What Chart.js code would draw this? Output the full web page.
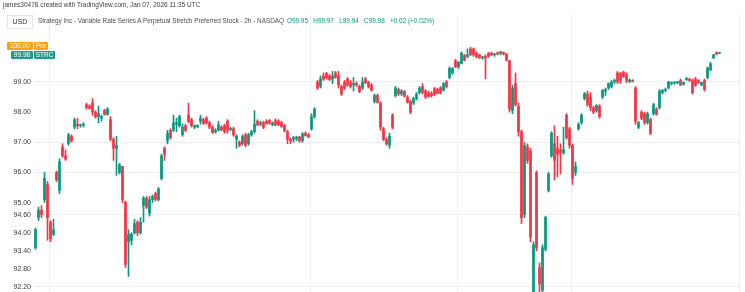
<!DOCTYPE html>
<html>
<head>
<meta charset="utf-8">
<script src="https://cdn.jsdelivr.net/npm/chart.js@4"></script>
<style>
  body { margin: 0; background: #fff; }
  #wrap { position: relative; width: 745px; height: 292px; overflow: hidden; font-family: "Liberation Sans", Arial, sans-serif; }
  #canvas { position: absolute; left: 0; top: 0; }
  .txt { position: absolute; white-space: nowrap; }
  .tag { position: absolute; color: #fff; font-size: 6.5px; line-height: 8px; height: 8px; text-align: center; border-radius: 1px; }
</style>
</head>
<body>
<div id="wrap">
  <canvas id="canvas" width="745" height="292"></canvas>
  <div class="txt" style="left:3px;top:1px;font-size:6.5px;color:#3c3f48">james30478 created with TradingView.com, Jan 07, 2026 11:35 UTC</div>
  <div class="txt" style="left:7px;top:15px;width:24px;height:12px;border:1px solid #e0e3eb;background:#fff;font-size:7px;line-height:12px;text-align:center;color:#333">USD</div>
  <div class="txt" style="left:38px;top:17px;font-size:6.4px;color:#4a4e59">Strategy Inc - Variable Rate Series A Perpetual Stretch Preferred Stock - 2h - NASDAQ</div>
  <div class="txt" style="left:287px;top:17px;font-size:6.4px;color:#089981">O99.95&nbsp;&nbsp; H99.97&nbsp;&nbsp; L99.94&nbsp;&nbsp; C99.98&nbsp;&nbsp; +0.02 (+0.02%)</div>
  <div class="tag" style="left:7px;top:42px;width:26px;background:#f7a21b">100.00</div>
  <div class="tag" style="left:34px;top:42px;width:14px;background:#f7a21b">Pre</div>
  <div class="tag" style="left:11px;top:51px;width:22px;background:#22998a">99.98</div>
  <div class="tag" style="left:34px;top:51px;width:21px;background:#22998a">STRC</div>
</div>
<script>
// 2h candles
const open = [
  93.5,94.5,94.75,95.1,95.6,94.35,93.95,96.0,95.4,96.85,
  96.55,96.95,97.2,97.5,97.6,97.55,97.57,98.25,98.2,98.3,
  98.0,97.85,97.8,98.05,97.92,97.75,97.1,96.8,96.0,96.2,
  95.0,93.7,93.75,94.0,94.35,94.0,94.9,95.15,94.65,95.1,
  95.3,95.1,95.8,96.8,97.05,97.4,97.4,97.6,97.55,97.25,
  97.55,97.9,97.75,97.5,97.52,97.7,97.75,97.8,97.65,97.5,
  97.35,97.4,97.5,97.55,97.7,97.42,97.45,97.1,97.0,96.95,
  97.25,96.95,97.25,97.35,97.7,97.6,97.65,97.7,97.72,97.58,
  97.72,97.7,97.65,97.55,97.35,97.1,97.1,97.12,97.17,97.05,
  97.3,97.25,97.45,97.85,99.0,98.85,99.2,99.28,99.2,99.1,
  99.3,99.2,98.85,99.0,99.1,99.0,98.9,98.95,98.85,98.8,
  99.1,99.0,98.9,98.35,98.55,98.3,97.45,97.1,96.9,97.9,
  98.55,98.75,98.6,98.68,98.5,98.35,98.3,98.45,98.65,98.85,
  98.7,98.65,98.62,98.78,98.75,98.8,98.72,99.0,99.15,99.3,
  99.7,99.5,99.62,99.88,99.85,100.1,100.1,99.95,99.9,99.8,
  99.85,99.95,99.95,99.9,99.95,99.95,99.98,99.92,99.7,98.05,
  98.95,98.2,97.35,94.6,96.85,96.7,92.0,96.0,92.85,92.1,
  93.45,95.4,96.55,96.95,96.8,96.75,96.65,97.9,97.45,96.9,
  96.0,97.45,97.65,98.45,98.6,98.5,98.15,98.05,98.2,98.5,
  98.7,98.8,98.85,99.0,99.3,99.28,99.33,99.25,99.02,99.05,
  98.8,97.5,98.0,97.95,97.65,97.75,97.95,98.1,98.15,98.65,
  98.72,98.8,98.95,98.97,98.97,99.05,98.92,99.08,99.1,99.05,
  99.1,99.05,98.9,99.05,99.15,99.4,99.8,99.97,99.95
];
const high = [
  94.15,94.85,94.9,96.0,95.7,94.4,94.45,96.05,96.45,96.95,
  96.75,97.3,97.25,97.8,97.8,97.6,97.65,98.3,98.25,98.45,
  98.05,98.2,97.9,98.1,98.15,97.85,97.15,97.2,96.3,96.2,
  95.05,94.1,94.0,94.45,94.4,94.5,95.2,95.2,95.2,95.25,
  95.35,95.5,96.6,96.85,97.4,97.45,97.9,97.8,97.9,97.6,
  97.6,98.3,97.8,97.58,97.58,97.9,97.8,97.85,97.7,97.55,
  97.45,97.7,97.55,97.6,97.75,97.5,97.5,97.25,97.05,97.25,
  97.3,97.3,97.4,98.05,97.75,97.7,97.7,97.75,97.76,97.68,
  97.78,97.75,97.7,97.6,97.4,97.15,97.2,97.2,97.2,97.32,
  97.35,97.3,97.95,98.15,99.05,99.2,99.3,99.32,99.25,99.35,
  99.35,99.35,98.9,99.05,99.15,99.05,99.15,99.0,98.9,99.15,
  99.15,99.02,98.95,98.6,98.6,98.35,97.5,97.15,97.3,97.95,
  98.85,98.8,98.75,98.72,98.55,98.4,98.5,98.65,98.85,98.95,
  98.75,98.7,98.68,98.82,98.8,98.85,98.98,99.05,99.5,99.48,
  99.75,99.68,100.0,99.92,100.1,100.15,100.13,100.0,99.92,99.85,
  99.9,99.98,100.0,99.95,100.0,100.02,100.0,99.95,99.72,98.9,
  99.3,98.3,97.4,97.0,96.95,96.8,93.7,96.05,93.0,93.6,
  94.55,96.0,97.35,97.55,97.2,96.95,97.5,97.95,97.5,96.95,
  96.35,97.65,97.95,98.65,98.7,98.65,98.2,98.25,98.25,98.75,
  98.8,98.97,99.05,99.1,99.35,99.32,99.36,99.3,99.1,99.08,
  98.85,97.7,98.05,98.0,98.0,97.8,98.3,98.15,98.75,98.75,
  98.8,99.02,99.0,99.0,99.02,99.1,99.0,99.15,99.12,99.1,
  99.15,99.08,99.0,99.1,99.5,99.65,99.92,100.0,99.97
];
const low = [
  93.45,94.4,94.5,95.0,93.75,93.7,93.9,95.7,95.3,96.5,
  96.4,96.9,97.0,97.45,97.45,97.5,97.5,98.1,98.1,97.9,
  97.8,97.65,97.7,97.9,97.9,97.05,96.4,95.9,95.95,95.0,
  92.85,92.55,93.6,93.95,93.9,93.95,94.35,94.8,94.55,95.0,
  95.05,95.05,95.75,96.4,96.95,97.1,97.35,97.35,97.5,97.2,
  97.35,97.65,97.5,97.45,97.48,97.6,97.6,97.6,97.45,97.3,
  97.3,97.38,97.38,97.3,97.3,97.38,97.2,96.8,96.85,96.9,
  96.85,96.9,97.2,97.3,97.55,97.55,97.45,97.6,97.6,97.55,
  97.55,97.55,97.5,97.35,96.95,96.95,97.0,97.05,97.0,97.0,
  97.2,97.15,97.4,97.8,98.75,98.8,99.05,99.1,99.05,98.95,
  99.12,98.8,98.55,98.75,98.85,98.8,98.7,98.85,98.65,98.75,
  98.95,98.8,98.7,98.3,98.3,97.4,97.05,96.9,96.8,97.45,
  98.5,98.55,98.55,98.5,98.3,97.95,98.25,98.4,98.6,98.6,
  98.45,98.5,98.5,98.55,98.6,98.6,98.7,98.8,99.1,99.25,
  99.48,99.45,99.6,99.7,99.8,99.88,99.85,99.8,99.78,99.75,
  99.1,99.82,99.88,99.85,99.9,99.9,99.9,99.7,98.0,97.95,
  98.2,97.2,94.3,94.5,96.3,93.7,91.6,93.4,91.7,91.6,
  93.4,95.35,96.5,95.75,95.85,95.95,96.6,97.1,96.8,95.6,
  95.9,97.4,97.6,98.4,98.2,98.05,97.95,98.0,97.8,98.45,
  98.55,98.75,98.8,98.95,98.95,98.95,99.15,98.98,98.98,99.0,
  97.6,97.45,97.75,97.6,97.6,97.25,97.9,97.9,98.1,98.6,
  98.68,98.78,98.9,98.92,98.95,98.88,98.9,99.05,99.02,98.6,
  98.85,98.95,98.88,98.7,99.1,99.38,99.78,99.9,99.94
];
const close = [
  94.1,94.75,94.6,95.8,94.5,93.8,94.1,95.75,96.35,96.55,
  96.45,97.25,97.05,97.75,97.55,97.57,97.6,98.15,98.12,98.0,
  97.85,97.95,97.85,97.92,98.1,97.1,96.8,96.9,96.25,95.1,
  92.95,93.95,93.95,94.3,94.0,94.35,95.15,94.85,95.1,95.2,
  95.1,95.45,96.55,96.6,97.3,97.15,97.65,97.65,97.85,97.5,
  97.4,97.7,97.55,97.55,97.56,97.8,97.62,97.65,97.5,97.32,
  97.4,97.58,97.42,97.35,97.4,97.46,97.25,97.2,96.9,97.2,
  96.9,97.25,97.35,97.6,97.58,97.65,97.5,97.62,97.64,97.64,
  97.58,97.6,97.52,97.38,97.1,97.05,97.15,97.17,97.05,97.28,
  97.22,97.17,97.85,98.1,98.8,99.1,99.1,99.15,99.08,99.2,
  99.15,98.9,98.6,98.8,98.9,98.85,98.95,98.9,98.68,99.0,
  98.97,98.85,98.73,98.55,98.32,97.5,97.1,96.95,97.2,97.5,
  98.8,98.6,98.7,98.52,98.32,98.0,98.45,98.6,98.8,98.65,
  98.5,98.52,98.55,98.6,98.62,98.65,98.95,98.85,99.45,99.45,
  99.5,99.65,99.95,99.72,99.9,99.9,99.9,99.83,99.8,99.82,
  99.8,99.85,99.9,99.92,99.93,100.0,99.92,99.72,98.1,98.8,
  98.25,97.35,94.5,96.9,96.4,93.85,93.6,93.5,92.3,93.5,
  94.5,95.95,97.3,96.4,96.6,96.65,96.75,97.15,96.9,95.8,
  96.2,97.6,97.9,98.62,98.25,98.15,98.0,98.22,97.85,98.72,
  98.75,98.95,99.0,99.05,99.0,99.05,99.18,99.05,99.06,99.02,
  97.7,97.65,97.8,97.65,97.95,97.3,98.25,97.92,98.7,98.72,
  98.75,99.0,98.97,98.98,99.0,98.9,98.98,99.12,99.05,98.65,
  98.9,98.97,98.98,98.75,99.45,99.6,99.9,99.93,99.98
];
const yTicks = [99, 98, 97, 96, 95, 94.6, 94, 93.4, 92.8, 92.2];
const yGridAt = [99, 97, 96, 94.6, 92.2];
const xGridAt = [5, 92, 141, 179]; // session breaks (bar index)
const emptySlots = 6;              // right margin of the chart

const up = '#089981', down = '#f23645', grid = '#eceef2';

const labels = [];
for (let i = 0; i < open.length + emptySlots; i++) labels.push(String(i));
const bodies = open.map((o, i) => [o, close[i]]);
const wicks = low.map((l, i) => [l, high[i]]);
const colors = open.map((o, i) => close[i] >= o ? up : down);

const canvas = document.getElementById('canvas');
const chart = new Chart(canvas, {
  type: 'bar',
  data: {
    labels: labels,
    datasets: [
      { data: bodies, backgroundColor: colors, barThickness: 2, minBarLength: 1, grouped: false, order: 0 },
      { data: wicks, backgroundColor: colors, barThickness: 1, grouped: false, order: 1 },
    ],
  },
  options: {
    responsive: false,
    animation: false,
    devicePixelRatio: 1,
    layout: { padding: { top: 15, right: 6, left: 0, bottom: 0 } },
    plugins: { legend: { display: false }, tooltip: { enabled: false } },
    scales: {
      x: {
        offset: true,
        afterFit: s => { s.height = 0; },
        ticks: { display: false },
        border: { display: false },
        grid: {
          offset: true,
          drawTicks: false,
          color: ctx => (!ctx.tick || xGridAt.includes(ctx.index)) ? grid : 'rgba(0,0,0,0)',
        },
      },
      y: {
        position: 'left',
        min: 92.034,
        max: 101.222,
        afterBuildTicks: s => { s.ticks = yTicks.map(v => ({ value: v })); },
        afterFit: s => { s.width = 34; s.paddingTop = 0; s.paddingBottom = 0; },
        border: { display: false },
        ticks: {
          padding: 3,
          color: '#3a3d46',
          font: { size: 7, family: '"Liberation Sans", Arial, sans-serif' },
          callback: v => Number(v).toFixed(2),
        },
        grid: {
          drawTicks: false,
          color: ctx => (ctx.tick && yGridAt.includes(ctx.tick.value)) ? grid : 'rgba(0,0,0,0)',
        },
      },
    },
  },
});
</script>
</body>
</html>
